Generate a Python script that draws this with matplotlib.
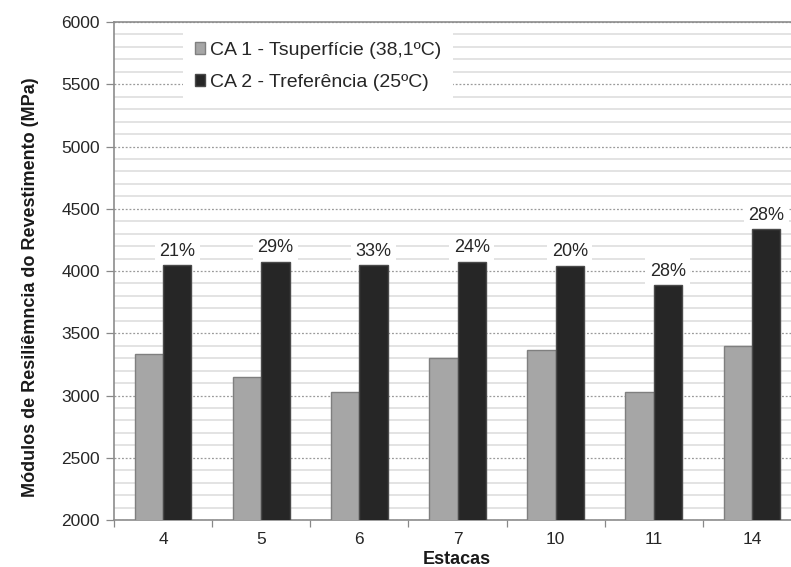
import matplotlib
matplotlib.use("Agg")
import matplotlib.pyplot as plt
import numpy as np
from matplotlib.ticker import MultipleLocator, FixedLocator

plt.rcParams['font.family'] = ['Liberation Sans', 'DejaVu Sans']

# Stations and resilient modulus values (MPa)
estacas = ["4", "5", "6", "7", "10", "11", "14"]
ca1_superficie = [3330, 3150, 3025, 3300, 3365, 3025, 3395]
ca2_referencia = [4045, 4075, 4045, 4075, 4040, 3885, 4335]
diferencas = ["21%", "29%", "33%", "24%", "20%", "28%", "28%"]

serie1_label = "CA 1 - Tsuperfície (38,1ºC)"
serie2_label = "CA 2 - Treferência (25ºC)"

W, H = 791, 567
fig = plt.figure(figsize=(W / 100, H / 100), dpi=100)
ax = fig.add_axes([114 / W, (H - 520) / H, (801 - 114) / W, (520 - 22) / H])

x = np.arange(len(estacas))
bw = 0.289
ax.bar(x - bw / 2, ca1_superficie, bw, color="#A6A6A6", edgecolor="#7F7F7F",
       linewidth=1.0, label=serie1_label, zorder=3)
ax.bar(x + bw / 2, ca2_referencia, bw, color="#262626", edgecolor="#4A4A4A",
       linewidth=1.0, label=serie2_label, zorder=3)

for xi, v, t in zip(x, ca2_referencia, diferencas):
    ax.annotate(t, (xi + bw / 2, v), xytext=(0, 4), textcoords="offset points",
                ha="center", va="bottom", fontsize=13, color="#262626", zorder=5,
                bbox=dict(boxstyle="square,pad=0.25", fc="white", ec="none"))

ax.set_ylim(2000, 6000)
ax.set_xlim(-0.5, len(estacas) - 0.5)

ax.yaxis.set_major_locator(MultipleLocator(500))
ax.yaxis.set_minor_locator(MultipleLocator(100))
ax.grid(which="minor", axis="y", color="#E0E0E0", linewidth=1.3, linestyle="-", zorder=0)
ax.grid(which="major", axis="y", color="#9A9A9A", linewidth=0.9, linestyle=(0, (1.5, 1.5)), zorder=1)
ax.set_axisbelow(True)

ax.set_xticks(x)
ax.set_xticklabels(estacas)
ax.xaxis.set_minor_locator(FixedLocator(np.arange(-0.5, len(estacas), 1.0)))
ax.tick_params(axis="x", which="major", length=0, pad=9, labelsize=12.5, labelcolor="#262626")
ax.tick_params(axis="x", which="minor", length=5, width=0.9, color="#888888", direction="out")
ax.tick_params(axis="y", which="major", length=6, width=0.9, color="#888888", pad=4,
               labelsize=12.5, labelcolor="#262626")
ax.tick_params(axis="y", which="minor", length=0)

for side in ["left", "bottom", "top", "right"]:
    ax.spines[side].set_color("#8C8C8C")
    ax.spines[side].set_linewidth(1.2)

ax.set_ylabel("Módulos de Resiliêmncia do Revestimento (MPa)", fontsize=13,
              fontweight="bold", color="#1A1A1A")
ax.yaxis.set_label_coords((39 - 114) / (801 - 114), (520 - 287) / (520 - 22))
ax.set_xlabel("Estacas", fontsize=13, fontweight="bold", color="#1A1A1A")
ax.xaxis.set_label_coords((457 - 114) / (801 - 114), -0.063)

leg = ax.legend(loc="upper left", bbox_to_anchor=(183 / W, (H - 30) / H),
                bbox_transform=fig.transFigure, frameon=True, fancybox=False,
                edgecolor="none", facecolor="white", framealpha=1.0, fontsize=14,
                handlelength=0.55, handleheight=0.55, handletextpad=0.25,
                labelspacing=0.8, borderpad=0.6, borderaxespad=0)
for txt in leg.get_texts():
    txt.set_color("#262626")

fig.savefig("out.png", dpi=100)
